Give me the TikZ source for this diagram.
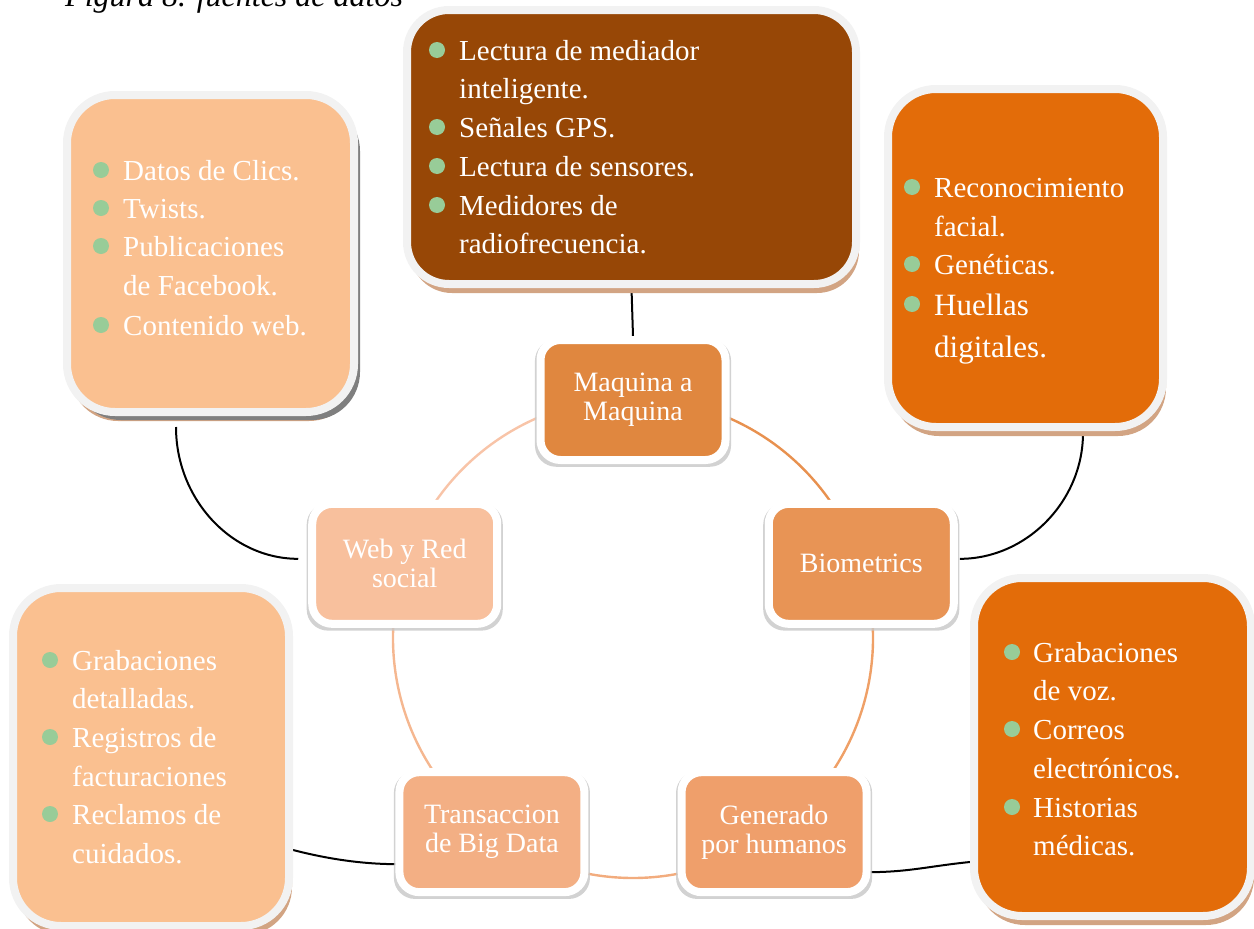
\documentclass[tikz,border=0pt]{standalone}
\usepackage{fontspec}
\setmainfont{Liberation Serif}
\usetikzlibrary{shadows,calc,backgrounds}
\definecolor{brownc}{HTML}{974706}
\definecolor{orangec}{HTML}{E36C09}
\definecolor{peachc}{HTML}{FAC090}
\definecolor{ringgray}{HTML}{F2F2F2}
\definecolor{tanshadow}{HTML}{D2A483}
\definecolor{greyshadow}{HTML}{7F7F7F}
\definecolor{mamc}{HTML}{E0873F}
\definecolor{bioc}{HTML}{E89455}
\definecolor{genc}{HTML}{EF9F6B}
\definecolor{transc}{HTML}{F3AF84}
\definecolor{webc}{HTML}{F8C09D}
\definecolor{arcA}{HTML}{E8914F}
\definecolor{arcB}{HTML}{EFA067}
\definecolor{arcC}{HTML}{F2AC7E}
\definecolor{arcD}{HTML}{F5B790}
\definecolor{arcE}{HTML}{F8C4A8}
\definecolor{bulletgreen}{HTML}{98CC98}
\begin{document}
\begin{tikzpicture}[x=1pt,y=-1pt,
  bigbox/.style={rectangle, rounded corners=42pt, draw=ringgray, line width=8pt, inner sep=0pt,
    drop shadow={shadow xshift=3pt, shadow yshift=-9pt, fill=tanshadow, opacity=1}},
  greybox/.style={bigbox, drop shadow={shadow xshift=6pt, shadow yshift=-8pt, fill=greyshadow, opacity=1}},
  hub/.style={rectangle, rounded corners=20pt, draw=white, line width=8pt,
    minimum width=185pt, minimum height=120pt, inner sep=0pt, text=white, align=center,
    font=\fontsize{28}{29}\selectfont,
    drop shadow={shadow xshift=0pt, shadow yshift=-3pt, shadow scale=1.06, fill=black!22, opacity=0.8}},
  itemtext/.style={anchor=base west, inner sep=0pt, text=white, font=\fontsize{29}{39}\selectfont},
  bigtext/.style={itemtext, font=\fontsize{31}{42}\selectfont},
  bul/.style={fill=bulletgreen},
  link/.style={draw=black, line width=2pt},
  ring/.style={line width=2.4pt}
]
\useasboundingbox (0,0) rectangle (1254,929);

% caption (cut at the top, as in the reference)
\node[anchor=base west, inner sep=0pt, font=\fontsize{32}{36}\selectfont\itshape] (cap) at (65,6) {Figura 8. fuentes de datos};

% big bullet boxes
\node[bigbox, fill=brownc, minimum width=449pt, minimum height=274pt] (top) at (631.5,147) {};
\node[greybox, fill=peachc, minimum width=287pt, minimum height=317pt, rounded corners=48pt] (lt) at (210.5,253.5) {};
\node[bigbox, fill=orangec, minimum width=275pt, minimum height=338pt, rounded corners=48pt] (rt) at (1025.5,258) {};
\node[bigbox, fill=peachc, minimum width=276pt, minimum height=338pt, rounded corners=48pt] (bl) at (151,757) {};
\node[bigbox, fill=orangec, minimum width=277pt, minimum height=338pt, rounded corners=48pt] (br) at (1112.5,747) {};

% texts of the boxes
\foreach \yy/\b/\t [count=\i] in {60/1/Lectura de mediador, 98/0/inteligente., 137/1/Señales GPS., 176/1/Lectura de sensores., 215/1/Medidores de, 253/0/radiofrecuencia.}{
  \node[itemtext] (top-\i) at (459,\yy) {\t};
  \ifnum\b=1 \fill[bul] (437,\yy-10) circle (8pt); \fi
}
\foreach \yy/\b/\t [count=\i] in {180/1/Datos de Clics., 218/1/Twists., 256/1/Publicaciones, 295/0/de Facebook., 335/1/Contenido web.}{
  \node[itemtext] (lt-\i) at (123,\yy) {\t};
  \ifnum\b=1 \fill[bul] (101,\yy-10) circle (8pt); \fi
}
\foreach \yy/\b/\t [count=\i] in {197/1/Reconocimiento, 236/0/facial., 274/1/Genéticas.}{
  \node[itemtext] (rt-\i) at (934,\yy) {\t};
  \ifnum\b=1 \fill[bul] (912,\yy-10) circle (8pt); \fi
}
\foreach \yy/\b/\t [count=\i] in {315/1/Huellas, 357/0/digitales.}{
  \node[bigtext] (rtb-\i) at (934,\yy) {\t};
  \ifnum\b=1 \fill[bul] (912,\yy-11) circle (8pt); \fi
}
\foreach \yy/\b/\t [count=\i] in {670/1/Grabaciones, 708/0/detalladas., 747/1/Registros de, 786/0/facturaciones, 824/1/Reclamos de, 863/0/cuidados.}{
  \node[itemtext] (bl-\i) at (72,\yy) {\t};
  \ifnum\b=1 \fill[bul] (50,\yy-10) circle (8pt); \fi
}
\foreach \yy/\b/\t [count=\i] in {662/1/Grabaciones, 700/0/de voz., 739/1/Correos, 778/0/electrónicos., 817/1/Historias, 855/0/médicas.}{
  \node[itemtext] (br-\i) at (1033,\yy) {\t};
  \ifnum\b=1 \fill[bul] (1012,\yy-10) circle (8pt); \fi
}

% hub circle
\coordinate (cc) at (633,638);
\begin{scope}[on background layer]
  \draw[ring, arcA] ($(cc)+(90:240pt)$) arc[start angle=90, end angle=18, radius=240pt];
  \draw[ring, arcB] ($(cc)+(18:240pt)$) arc[start angle=18, end angle=-54, radius=240pt];
  \draw[ring, arcC] ($(cc)+(-54:240pt)$) arc[start angle=-54, end angle=-126, radius=240pt];
  \draw[ring, arcD] ($(cc)+(-126:240pt)$) arc[start angle=-126, end angle=-198, radius=240pt];
  \draw[ring, arcE] ($(cc)+(162:240pt)$) arc[start angle=162, end angle=90, radius=240pt];
\end{scope}

\node[hub, fill=mamc] (mam) at ($(cc)+(90:238pt)$) {Maquina a\\Maquina};
\node[hub, fill=bioc] (bio) at ($(cc)+(18:240pt)$) {Biometrics};
\node[hub, fill=genc] (gen) at ($(cc)+(-54:240pt)$) {Generado\\por humanos};
\node[hub, fill=transc] (trans) at ($(cc)+(-126:240pt)$) {Transaccion\\de Big Data};
\node[hub, fill=webc] (web) at ($(cc)+(162:240pt)$) {Web y Red\\social};

% black connectors
\begin{scope}[on background layer]
  \draw[link] (top.south) -- (mam.north);
  \coordinate (ltS) at ($(lt.south)+(-34.5,11)$);
  \coordinate (webW) at ($(web.west)+(-10,-5)$);
  \draw[link] (ltS) .. controls ($(ltS)+(0,72)$) and ($(webW)+(-67,0)$) .. (webW);
  \coordinate (rtS) at ($(rt.south)+(57.5,2)$);
  \coordinate (bioE) at ($(bio.east)+(2,-5)$);
  \draw[link] (rtS) .. controls ($(rtS)+(0,68)$) and ($(bioE)+(67,0)$) .. (bioE);
  \coordinate (blE) at ($(bl.east)+(0,93)$);
  \coordinate (trW) at ($(trans.west)+(2,32)$);
  \draw[link] (blE) .. controls ($(blE)+(35,9)$) and ($(trW)+(-35,0)$) .. (trW);
  \coordinate (genE) at ($(gen.east)+(-2,40)$);
  \coordinate (brW) at ($(br.west)+(0,115)$);
  \draw[link] (genE) .. controls ($(genE)+(40,0)$) and ($(brW)+(-40,4)$) .. (brW);
\end{scope}
\end{tikzpicture}
\end{document}
